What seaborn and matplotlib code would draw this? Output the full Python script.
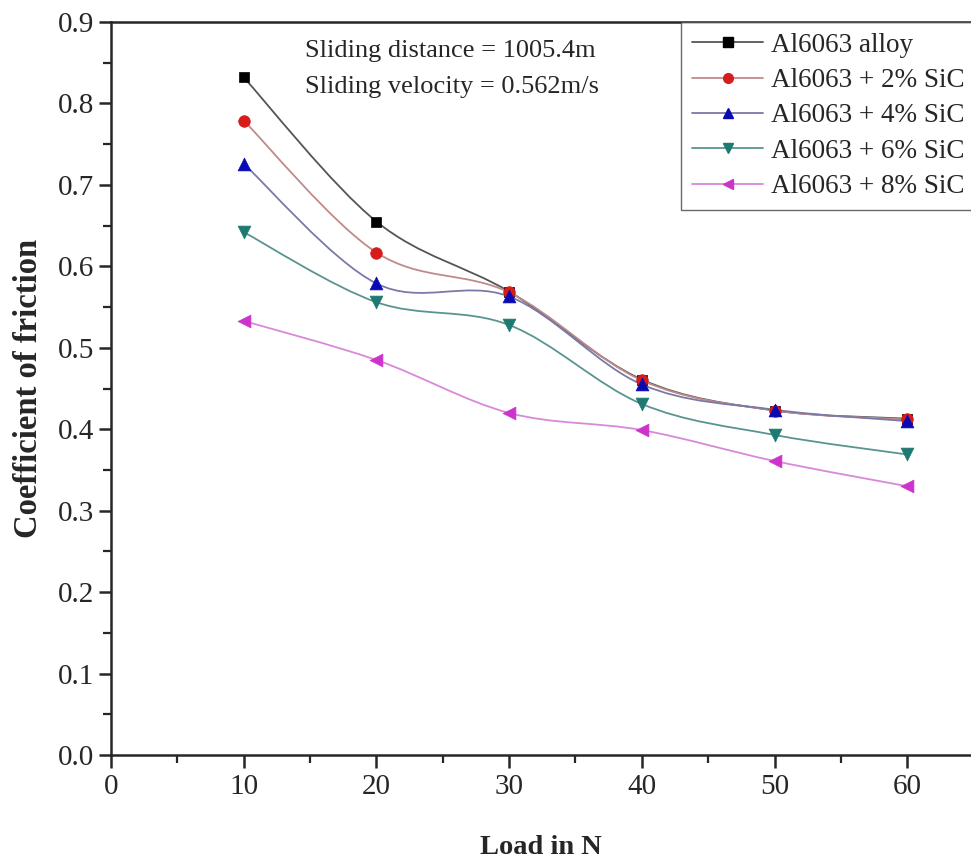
import numpy as np
import matplotlib
matplotlib.use("Agg")
import matplotlib.pyplot as plt
from matplotlib.path import Path
from matplotlib.patches import PathPatch
from matplotlib.lines import Line2D
from matplotlib.ticker import MultipleLocator
import seaborn as sns

# data
load = [10, 20, 30, 40, 50, 60]
alloy = [0.832, 0.655, 0.569, 0.461, 0.423, 0.413]
sic2 = [0.779, 0.617, 0.568, 0.460, 0.423, 0.412]
sic4 = [0.726, 0.579, 0.563, 0.455, 0.424, 0.410]
sic6 = [0.642, 0.556, 0.528, 0.431, 0.393, 0.369]
sic8 = [0.533, 0.485, 0.420, 0.399, 0.361, 0.330]

labels = ["Al6063 alloy", "Al6063 + 2% SiC", "Al6063 + 4% SiC",
          "Al6063 + 6% SiC", "Al6063 + 8% SiC"]
series = [alloy, sic2, sic4, sic6, sic8]
colors = ["#000000", "#d81c1c", "#0a0ab4", "#1c7a72", "#cc33cc"]
line_colors = ["#555555", "#c08a8a", "#7a7aa8", "#5a9490", "#d889d8"]
markers = ["s", "o", "^", "v", "<"]
sizes = [50, 70, 85, 85, 85]

sns.set_style("ticks")
plt.rcParams["font.family"] = ["Liberation Serif", "DejaVu Serif"]

fig = plt.figure(figsize=(9.71, 8.63), dpi=100)
ax = fig.add_axes([0.1143, 0.1251, 0.8857, 0.8494])


def smooth_path(xs, ys):
    # Catmull-Rom style bezier through the points (like Origin's spline connect)
    pts = np.column_stack([xs, ys]).astype(float)
    n = len(pts)
    verts = [pts[0]]
    codes = [Path.MOVETO]
    for i in range(n - 1):
        p0 = pts[i - 1] if i > 0 else pts[i]
        p1 = pts[i]
        p2 = pts[i + 1]
        p3 = pts[i + 2] if i + 2 < n else pts[i + 1]
        c1 = p1 + (p2 - p0) / 6.0
        c2 = p2 - (p3 - p1) / 6.0
        verts += [c1, c2, p2]
        codes += [Path.CURVE4] * 3
    return Path(verts, codes)


for vals, lc in zip(series, line_colors):
    ax.add_patch(PathPatch(smooth_path(load, vals), facecolor="none",
                           edgecolor=lc, lw=1.3, zorder=2))

for vals, c, m, s in zip(series, colors, markers, sizes):
    sns.scatterplot(x=load, y=vals, marker=m, color=c, s=s,
                    edgecolor=c, linewidth=0.5, ax=ax, zorder=3)

ax.set_xlim(0, 64.8)
ax.set_ylim(0, 0.9)
ax.xaxis.set_major_locator(MultipleLocator(10))
ax.xaxis.set_minor_locator(MultipleLocator(5))
ax.yaxis.set_major_locator(MultipleLocator(0.1))
ax.yaxis.set_minor_locator(MultipleLocator(0.05))
ax.yaxis.set_major_formatter(matplotlib.ticker.FormatStrFormatter("%.1f"))
ax.tick_params(which="major", direction="out", length=9, width=1.8, labelsize=21)
ax.tick_params(which="minor", direction="out", length=6, width=1.6)
ax.tick_params(axis="y", which="major", pad=3)
ax.tick_params(axis="x", which="major", pad=5)

for side in ["left", "bottom", "top"]:
    ax.spines[side].set_linewidth(1.8)
ax.spines["right"].set_visible(False)

ax.set_xlabel("Load in N", fontsize=20.5, fontweight="bold", labelpad=25)
ax.set_ylabel("Coefficient of friction", fontsize=23.5, fontweight="bold", labelpad=10)

ax.text(14.6, 0.878, "Sliding distance = 1005.4m\nSliding velocity = 0.562m/s",
        fontsize=19, va="top", ha="left", linespacing=1.8)

handles = [Line2D([0], [0], color=lc, lw=1.3, marker=m, markersize=7,
                  markerfacecolor=c, markeredgecolor=c)
           for lc, c, m in zip(line_colors, colors, markers)]
leg = ax.legend(handles, labels, loc="upper right", bbox_to_anchor=(1.005, 1.0),
                fontsize=19.5, frameon=True, fancybox=False, edgecolor="#444444",
                borderaxespad=0, labelspacing=0.38, handlelength=2.6,
                handletextpad=0.3, borderpad=0.4)
leg.get_frame().set_linewidth(1.0)

fig.savefig("out.png", dpi=100)
